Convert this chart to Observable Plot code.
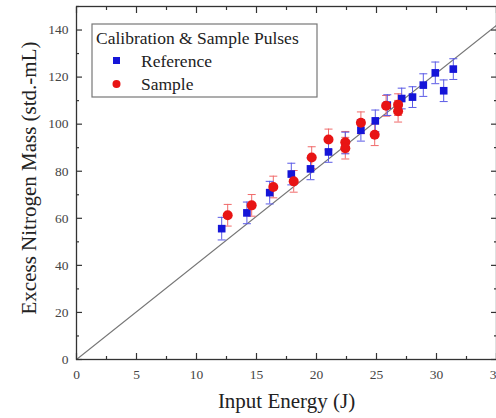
<!DOCTYPE html>
<html><head><meta charset="utf-8">
<script src="https://cdn.jsdelivr.net/npm/d3@7"></script>
<script src="https://cdn.jsdelivr.net/npm/@observablehq/plot@0.6"></script>
<style>
body{margin:0;background:#fff;}
svg text{font-family:"Liberation Serif","Times New Roman",serif !important;}
</style></head><body><div id="chart"></div>
<script>
// Reference (calibration) pulses
const refX = [12.1, 14.2, 16.1, 17.9, 19.5, 21.0, 22.4, 23.7, 24.9, 25.9, 27.1, 28.0, 28.9, 29.9, 30.6, 31.4];
const refY = [55.6, 62.3, 70.9, 78.8, 81.0, 88.2, 92.0, 97.4, 101.4, 108.1, 110.9, 111.5, 116.6, 121.8, 114.2, 123.4];
const refErr = [4.8, 4.6, 4.8, 4.6, 4.6, 4.4, 4.6, 4.6, 4.6, 4.4, 4.4, 4.4, 4.8, 4.6, 4.6, 4.4];
// Sample pulses
const smpX = [12.6, 14.6, 16.4, 18.1, 19.6, 21.0, 22.4, 22.4, 23.7, 24.85, 25.8, 26.8, 26.8];
const smpY = [61.3, 65.5, 73.3, 75.7, 85.8, 93.5, 92.3, 89.8, 100.6, 95.5, 107.8, 108.3, 105.5];
const smpErr = [4.6, 4.6, 4.6, 4.6, 4.6, 4.4, 4.6, 4.6, 4.6, 4.6, 4.4, 4.6, 4.6];
// Reference line
const lineX = [0, 35];
const lineY = [0, 142];
// Ticks
const xMajor = [0, 5, 10, 15, 20, 25, 30, 35];
const xMinor = [2.5, 7.5, 12.5, 17.5, 22.5, 27.5, 32.5];
const yMajor = [0, 20, 40, 60, 80, 100, 120, 140];
const yMinor = [10, 30, 50, 70, 90, 110, 130, 150];
const xTitle = "Input Energy (J)";
const yTitle = "Excess Nitrogen Mass (std.-mL)";
const legendTitle = "Calibration & Sample Pulses";
const seriesNames = ["Reference", "Sample"];

const ref = refX.map((x, i) => ({x, y: refY[i], e: refErr[i]}));
const smp = smpX.map((x, i) => ({x, y: smpY[i], e: smpErr[i]}));
const line = lineX.map((x, i) => ({x, y: lineY[i]}));

const BLUE = "#1515d8", BLUE_BAR = "#5a5ae6";
const RED = "#e81414", RED_BAR = "#f06a6a";
const cap = {draw(ctx) { ctx.moveTo(-4, 0); ctx.lineTo(4, 0); }};
const AX = "#333";
const SERIF = "Liberation Serif";

function errMarks(data, barColor) {
  return [
    Plot.ruleX(data, {x: "x", y1: d => d.y - d.e, y2: d => d.y + d.e, stroke: barColor, strokeWidth: 1}),
    Plot.dot(data, {x: "x", y: d => d.y - d.e, symbol: cap, stroke: barColor, fill: "none", strokeWidth: 1}),
    Plot.dot(data, {x: "x", y: d => d.y + d.e, symbol: cap, stroke: barColor, fill: "none", strokeWidth: 1})
  ];
}

const plot = Plot.plot({
  width: 496, height: 418,
  marginLeft: 76, marginRight: 0, marginTop: 6, marginBottom: 59,
  x: {domain: [0, 35]},
  y: {domain: [0, 150]},
  style: {fontFamily: SERIF, fontSize: "13px", background: "#fff", color: AX},
  marks: [
    Plot.line(line, {x: "x", y: "y", stroke: "#777", strokeWidth: 1.1}),
    ...errMarks(smp, RED_BAR),
    ...errMarks(ref, BLUE_BAR),
    Plot.dot(ref, {x: "x", y: "y", symbol: "square", r: 4.3, fill: BLUE}),
    Plot.dot(smp, {x: "x", y: "y", symbol: "circle", r: 5, fill: RED}),
    Plot.frame({stroke: AX, strokeWidth: 1.3}),
    // inward ticks
    Plot.axisX(xMajor, {anchor: "bottom", tickSize: -6, fill: "none", strokeWidth: 1.2}),
    Plot.axisX(xMinor, {anchor: "bottom", tickSize: -3, fill: "none", strokeWidth: 1.2}),
    Plot.axisX(xMajor, {anchor: "top", tickSize: -6, fill: "none", strokeWidth: 1.2}),
    Plot.axisX(xMinor, {anchor: "top", tickSize: -3, fill: "none", strokeWidth: 1.2}),
    Plot.axisY(yMajor, {anchor: "left", tickSize: -6, fill: "none", strokeWidth: 1.2}),
    Plot.axisY(yMinor, {anchor: "left", tickSize: -3, fill: "none", strokeWidth: 1.2}),
    Plot.axisY(yMajor, {anchor: "right", tickSize: -6, fill: "none", strokeWidth: 1.2}),
    Plot.axisY(yMinor, {anchor: "right", tickSize: -3, fill: "none", strokeWidth: 1.2}),
    // tick labels
    Plot.axisX(xMajor, {anchor: "bottom", tickSize: 0, tickPadding: 10, label: null, fill: "#444", fontFamily: SERIF, fontSize: 13.5}),
    Plot.axisY(yMajor, {anchor: "left", tickSize: 0, tickPadding: 8, label: null, fill: "#444", fontFamily: SERIF, fontSize: 13.5}),
    // axis titles
    Plot.text([xTitle], {text: d => d, frameAnchor: "bottom", dy: 42, fontSize: 21, fill: "#222", lineAnchor: "middle", textAnchor: "middle", fontFamily: SERIF}),
    Plot.text([yTitle], {text: d => d, frameAnchor: "left", dx: -47, dy: -5, rotate: -90, fontSize: 21, fill: "#222", lineAnchor: "middle", textAnchor: "middle", fontFamily: SERIF})
  ]
});
document.getElementById("chart").appendChild(plot);

// Legend box inside the plot area
const svg = d3.select(plot);
const lg = svg.append("g").attr("font-family", "Liberation Serif, serif").attr("fill", "#222").attr("text-anchor", "start");
lg.append("rect").attr("x", 92).attr("y", 24).attr("width", 225).attr("height", 73)
  .attr("fill", "#fff").attr("stroke", "#777").attr("stroke-width", 1.2);
lg.append("text").attr("x", 96).attr("y", 44).attr("font-size", 17.5).attr("text-anchor", "start").text(legendTitle);
lg.append("rect").attr("x", 113).attr("y", 57).attr("width", 7).attr("height", 7).attr("fill", BLUE);
lg.append("text").attr("x", 141).attr("y", 67).attr("font-size", 17.5).attr("text-anchor", "start").text(seriesNames[0]);
lg.append("circle").attr("cx", 116.5).attr("cy", 84).attr("r", 4).attr("fill", RED);
lg.append("text").attr("x", 141).attr("y", 90).attr("font-size", 17.5).attr("text-anchor", "start").text(seriesNames[1]);
</script>
</body></html>
